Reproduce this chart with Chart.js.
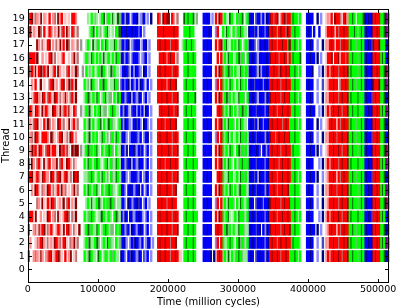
<!DOCTYPE html>
<html>
<head>
<meta charset="utf-8">
<script src="https://cdn.jsdelivr.net/npm/chart.js@4/dist/chart.umd.min.js"></script>
<style>
html,body{margin:0;padding:0;background:#fff;}
canvas{display:block;}
</style>
</head>
<body>
<canvas id="c" width="399" height="308" style="width:399px;height:308px"></canvas>
<script>
// ---- data ----
const xTicks = [0, 100000, 200000, 300000, 400000, 500000];
const yTicks = [0,1,2,3,4,5,6,7,8,9,10,11,12,13,14,15,16,17,18,19];
const xMax = 516000;
const BIN = 2500;          // cycles per pattern cell
const NBINS = 207;
// start bin of each phase chunk (chunks separated by '|')
const phaseStart = [0,30,32,53,73,87,89,97,100,106,111,126,138,150,157,159,164,170,183,192,197,201,204];
// state codes per cell: R/r/p/d/m reds, G/g/e/h greens, B/b/n/k blues, x grey, '.' idle
const threadPatterns = [
"",
"R..rmrpdr.rmRdprRdmp.R.rd.pm..|..|GgheGgg.eG.gGhgGhGgg.|nBb.BknBkbnB.kbB.b..|.RdRRdRRmRRdRp|p.|GGeGGeG.|...|BnBBn.|n.RdR|gGge.GghGeGhggb|BnB.kBnBBbnB|RdRRdRmRRdRG|GGeGgG.|..|BBnB.|.b..n.|rRpRdRRdRmRRd|GGeGGhGeG|BnBBn|RdRR|GGe|nBR",
".r..pmrRdr.mpr.dRrm.Rdp.mrd.m.|..|gGheggGeh.gGgeGhg.Ggh|kBnb.bBknBkbB.bnB.b.|.RdRRdRRmRRd..|..|GeGGGeG.|...|BnBBB.|.bR.R|GggGeGg.GehGhgG|BBnBkBBnBbBn|RdRRmRdRRdRR|GeGGGg.|..|BBnB.|.b..k.|rpRRdRRmRRdRd|GeGGhGGeG|BBnBn|RRdR|GeG|BRn",
"R..rmpdrRd.mrRp.rRmpd.Rdr.mp.d|..|gGehGggeG.gGeGghh.GgG|nBbkB.nBkbBnB.bB.b..|.RRdRRdRRmRRd.|..|GGeGGeG.|...|BBnBB.|.RdRR|gGehG.GggeGGhgg|BnBBkBn.BbnB|dRRdRRmRdRRd|GGeGGg.|..|BBnBB|.n.b..|prRdRR.RmRdRR|GGeGhGGeG|BnBBn|RdRR|GGe|nBR",
"RRRpd..r.p.dR.rm.dp.rRdm.m.d..|..|GghGeGg.gheGghGg.Gehg|BbnB.BnbkBnBb.bB.b..|.RdRRRdRRmRdR.|..|GeGGGeGG|...|BnBBB.|.R.dR|GgGeg.gGgeGGhgG|BBnBkBBnBbBn|RRdRmRRdRRdR|GGeGgG.|..|BnBB.|..b.n.|rRpRdRRdRmRRd|GeGGGeGhG|BBnBk|RRdR|GeG|BnR",
".....mr.dp.RrdRm.pr.d.mR.r.d..|..|.gGgeggGeh.GgGheGh.gg|kBb.nBbkBnkB.bB.b...|.RRdRRmRRdRR..|..|GGeGGeG.|...|BBnBB.|.bR.R|gGgeGGh.GgeGggG|BnB.kBnBbBBn|dRRdRRmRdRRe|GGeGGh.|..|BBnB.|.b..n.|prRRdRRmRdRRd|GGeGGhGeG|BnBBn|RdRR|GGe|nRB",
"..r.dRp.mr.dRpm.rR.drm.p.rd.m.|..|GgeGghGeg.GghGeGhg.gG|nBb.BnBbkBn.B.bB.b..|.RdRRRdRRmRd..|..|GeGGGeG.|...|BnBBB.|.R.dR|GgGgeG.GgheGGhg|BBnBkBnBBbnB|RRdRmRRdRRdG|GGeGGg.|..|BnBB.|.b..n.|rpRdRRmRRdRRd|GeGGGhGeG|BBnBn|RRdR|GeG|BRn",
"RRd.rRmpdRrr.dRpmRd.rRdpm.dRd.|..|gghGeG.gGgeGgh.GhgeGg|kBnb.bBnBkbB.bnB.b..|.RRdRRdRRmRRd.|..|GGeGGeG.|...|BBnBB.|..RdR|GggeGG.gGgeGhGg|BnBkB.nBBbBn|RdRRmRRdRRdR|GGeGgG.|..|BBnBB|.n..b.|prRRdR.RmRdRR|GGeGhGGeG|BnBBk|RdRR|GGe|nBR",
"R.dr.mRp.dpmR.rrd.mRp.dRr.mp..|..|GgeGhgGeGg.gGegGhgeGg|nBbkBn.BkbnBB.bB.b..|.RdRRmRRdRRdR.|..|GeGGGeGG|...|BBnBB.|.R.Rd|gGgeGg.GghGeGhG|BnBBkBBnBbBn|RRdRRmRdRRdR|GGeGGg.|..|BnBB.|..b.n.|rRpRdRRmRdRRd|GeGGGeGhG|BBnBn|RRdR|GeG|BRn",
".rdmRpdRr.mRdrRRp.dmRrdp.dmdd.|x.|gGehGgGeg.GghGeGh.Ggg|nBbn.BBnkbBkB.bB.b..|.RRdRRRdRmRRd.|..|GGeGGeG.|...|BnBBB.|.R.dR|GgGgeGg.GehGhGg|BnBBnBk.BnbB|RdRRdRmRRdRR|GeGGGg.|..|BBnBB|.n.b..|prRRdRRdRmRRd|GGeGGhGeG|BnBBn|RdRR|GGe|nRB",
".rm.dRp.RRRr.dmp.rRd.pm.dR.r..|..|GghegGgG.geGgh.hGgeGg|kBnb.bBnBkbB.bBn.b..|.RdRRRdRRmRdR.|..|GeGGGeG.|...|BBBnB.|.bR.R|GgGegG.gGgeGhGg|BBnBkBnBBbnB|dRRmRdRRdRRe|GGeGGg.|..|BBnB.|.b..n.|rpRRdRmRRdRRd|GGeGhGGeG|BnBBk|RRdR|GGe|BnR",
".r.mRd.p.R.dm.rp.dR.m.pd.rR.m.|..|GghegG.gGe.GgheGhg.gG|BbnBkb.BnkBb.nBb.b..|.RRdRmRRdRRd..|..|GGeGGeG.|...|BBnBB.|.R.Rd|gGgeGGh.GgeGgg.|BnBkB.nBbBBn|RdRRdRRmRdRG|GGeGgG.|..|BnBB.|.n.b..|prRdRR.RmRdRR|GeGGhGGeG|BnBBn|RdRR|GGe|nBR",
"RRmpdRr.drRmp.dRrpd.mRrdp.Rm..|x.|gGheg.GgGeghh.gGeGgg.|BbnBb.kBnbBbB.nB.b..|..RdRRRdRRmRd.|..|GeGGeGG.|...|BnBBB.|..RdR|GgGgeG.GghGehGg|BnBBkBnBBbBn|RRdRmRRdRRdR|GGeGGh.|..|BBnBB|..b.n.|rRpRdRRdRmRRd|GGeGGeGhG|BBnBn|RRdR|GeG|BRn",
"r.pmRdrpdR.mRr.dRpm.rdr.mR.d..|..|gGehgGgeG.gGeghh.GgeG|nBbkBn.BkbnB.bB.b...|.RRdRRdRRmRRd.|..|GGeGGGe.|...|BBnBB.|.R.dR|gGehG.GggeGGh.G|BBnBk.BnBbnB|dRRdRRmRdRRe|GGeGgG.|..|BBnB.|.b..n.|rpRRdRRmRdRRd|GeGGGeGhG|BnBBk|RdRR|GGe|nBR",
"..r.R..d.p..mRd.r.pRd.rdmR.d..|..|Ggh.eGgg.GheGg.ggeGh.|kBbBn.BkbB.nBb.B.b..|.RRdRRrRdRRd..|..|GeGGGeG.|...|BBnBB.|.bR.R|GgGgeGg.GgeGgG.|BnBkBBnBbBnB|RdRRdRmRRdRR|GGeGGg.|..|BnBB.|.b..k.|prRRdRR.mRRdR|GGeGhGGeG|BnBBn|dRRd|GGe|BRn",
"RmRrdpRdmRrd.pmR.dr.p.mR.r.dm.|.x|.GghgG.gGheGg.gehGgg.|bBnBk.BbnBkb.nB.b...|.RdRRdRRRmRdR.|..|GGeGhGG.|...|BnBBB.|.R.dR|GgGehG.GggeGgGh|BnBBk.nbBBnB|RRdRRmdRRdRe|GGeGgG.|..|BBBn.|..b.n.|rRpRdRRmRRdRd|GeGGGhGeG|BnBBn|RRdR|GGe|nRB",
"RRRRmd..r.p.Rd.m.p.rR..p.rd.m.|..|gGhgeG.GgG.eghG.GgeGh|BnbBk.bBnBb.bkB.b...|..RRdRrRdRR.m.|..|GGeGGeG.|...|BBBnB.|..R.R|gGgeGG.gGehGh.G|BBnBk.BnBBnB|dRRdRmRRdRgR|GeGGGe.|..|BBnBB|.n.b..|pRRd.RRdrRRmR|GGeGGhGeG|BnBBn|RdRR|GeG|BnR",
".....dr.mp.Rd.r.mpd.R.dm.rp.m.|x.|.gGg.eghG.GgeG.ggeG.h|kBbBn.bkBnB.bBn.b...|.RdRRdRRmRRdR.|.g|GeGGeGg.|...|BBnBB.|.R.Rd|gGeg.GgGgeG.gGh|BnBk.bnBBnBk|RdRRmRRdRRGd|GGeGgG.|..|BBnB.|.b..n.|rpRdR.RRmRdRR|GeGGhGGeG|BBnBk|dRRd|GGG|nBR",
"Rd.rp.dm.R.pRm.rpd.mR.dr.Rm.m.|..|...gGe.Ggh.gGeg.g.Ghe|nBBnBBnBnBbB.b......|.RRRdRRRRRdRR.|..|GGGeGG..|...|BBBnB.|.bR..|GgeGg.GghGeGgg.|nBBkB.BnBbBn|RdRRGRdRRmdR|GGeGGg.|..|BnB.B|..B...|rRRdR.RmRRdRR|GGGeGgGeG|BnBBn|RRdR|GGe|BRB",
".Rd.mrpd.rp.R.rm.drR.p.p.RRr..|..|..g.Gghg.gGe.hGgeg.eh|kBbnB.bBBn.bkB.b.n..|.Rm.dRdd.Rr.m.|..|eGeGGe.h|...|BBnB.b|.R.dR|gGg.eGg.GhGe.gG|BnB.kBnbB.nB|dRmRd.rRdmRR|GeGGgG.|..|BnBB.|.n.b..|prpR.dRRm.Rdr|GGeG.GhGe|nBnBn|RdRR|GGe|BRn"
];
// colour of each state code
const palette = {
  R:'#ff0000', r:'#ff8f8f', p:'#ffc4c4', d:'#8b0000', m:'#c07070',
  G:'#00ff00', g:'#94ee94', e:'#006a00', h:'#7cba7c',
  B:'#0000ff', b:'#8c8cff', n:'#000082', k:'#4848c0',
  x:'#9a9a9a'
};

// ---- build segments ----
const byCode = {};
threadPatterns.forEach((pat, thread) => {
  if (!pat) return;
  const cells = new Array(NBINS).fill('.');
  pat.split('|').forEach((chunk, i) => {
    for (let j = 0; j < chunk.length; j++) {
      const b = phaseStart[i] + j;
      if (b < NBINS) cells[b] = chunk[j];
    }
  });
  let s = 0;
  for (let b = 1; b <= NBINS; b++) {
    if (b === NBINS || cells[b] !== cells[s]) {
      if (cells[s] !== '.' && palette[cells[s]]) {
        (byCode[cells[s]] = byCode[cells[s]] || []).push({x: [s * BIN, b * BIN], y: thread});
      }
      s = b;
    }
  }
});
const datasets = Object.keys(palette).map(code => ({
  label: code,
  data: byCode[code] || [],
  backgroundColor: palette[code],
  borderWidth: 0,
  grouped: false,
  barThickness: 11
}));

// ---- frame + inward ticks ----
const framePlugin = {
  id: 'frame',
  afterDraw(chart) {
    const {ctx, chartArea: a, scales} = chart;
    ctx.save();
    ctx.strokeStyle = '#000';
    ctx.lineWidth = 1;
    const L = Math.round(a.left) + 0.5, R = Math.round(a.right) - 0.5;
    const T = Math.round(a.top) + 0.5, B = Math.round(a.bottom) - 0.5;
    ctx.strokeRect(L, T, R - L, B - T);
    ctx.beginPath();
    xTicks.forEach(v => {
      const px = Math.round(scales.x.getPixelForValue(v)) + 0.5;
      ctx.moveTo(px, B); ctx.lineTo(px, B - 3.5);
      ctx.moveTo(px, T); ctx.lineTo(px, T + 3.5);
    });
    yTicks.forEach(v => {
      const py = Math.round(scales.y.getPixelForValue(v)) + 0.5;
      ctx.moveTo(L, py); ctx.lineTo(L + 3.5, py);
      ctx.moveTo(R, py); ctx.lineTo(R - 3.5, py);
    });
    ctx.stroke();
    ctx.restore();
  }
};

const FONT = 'DejaVu Sans';
new Chart(document.getElementById('c'), {
  type: 'bar',
  data: { datasets },
  options: {
    indexAxis: 'y',
    animation: false,
    responsive: false,
    devicePixelRatio: 1,
    layout: { padding: { top: 2, right: 9.7, left: 0, bottom: 0 } },
    plugins: { legend: { display: false }, tooltip: { enabled: false } },
    scales: {
      x: {
        type: 'linear', min: 0, max: xMax, offset: false,
        grid: { display: false, drawTicks: false },
        border: { display: false },
        afterBuildTicks(s) { s.ticks = xTicks.map(v => ({value: v})); },
        afterFit(s) { s.height = 25.5; },
        ticks: {
          autoSkip: false, maxRotation: 0, padding: 1.5, color: '#000',
          font: { family: FONT, size: 9.5 },
          callback: v => String(v)
        },
        title: {
          display: true, text: 'Time (million cycles)', color: '#000',
          font: { family: FONT, size: 10 }, padding: { top: 0, bottom: 0 }
        }
      },
      y: {
        type: 'linear', min: -1, max: 19.75, offset: false,
        grid: { display: false, drawTicks: false },
        border: { display: false },
        afterBuildTicks(s) { s.ticks = yTicks.map(v => ({value: v})); },
        afterFit(s) { s.width = 27.7; },
        ticks: {
          autoSkip: false, padding: 3, color: '#000',
          font: { family: FONT, size: 9.5 },
          callback: v => String(v)
        },
        title: {
          display: true, text: 'Thread', color: '#000',
          font: { family: FONT, size: 10 }, padding: { top: 0, bottom: 0 }
        }
      }
    }
  },
  plugins: [framePlugin]
});
</script>
</body>
</html>
